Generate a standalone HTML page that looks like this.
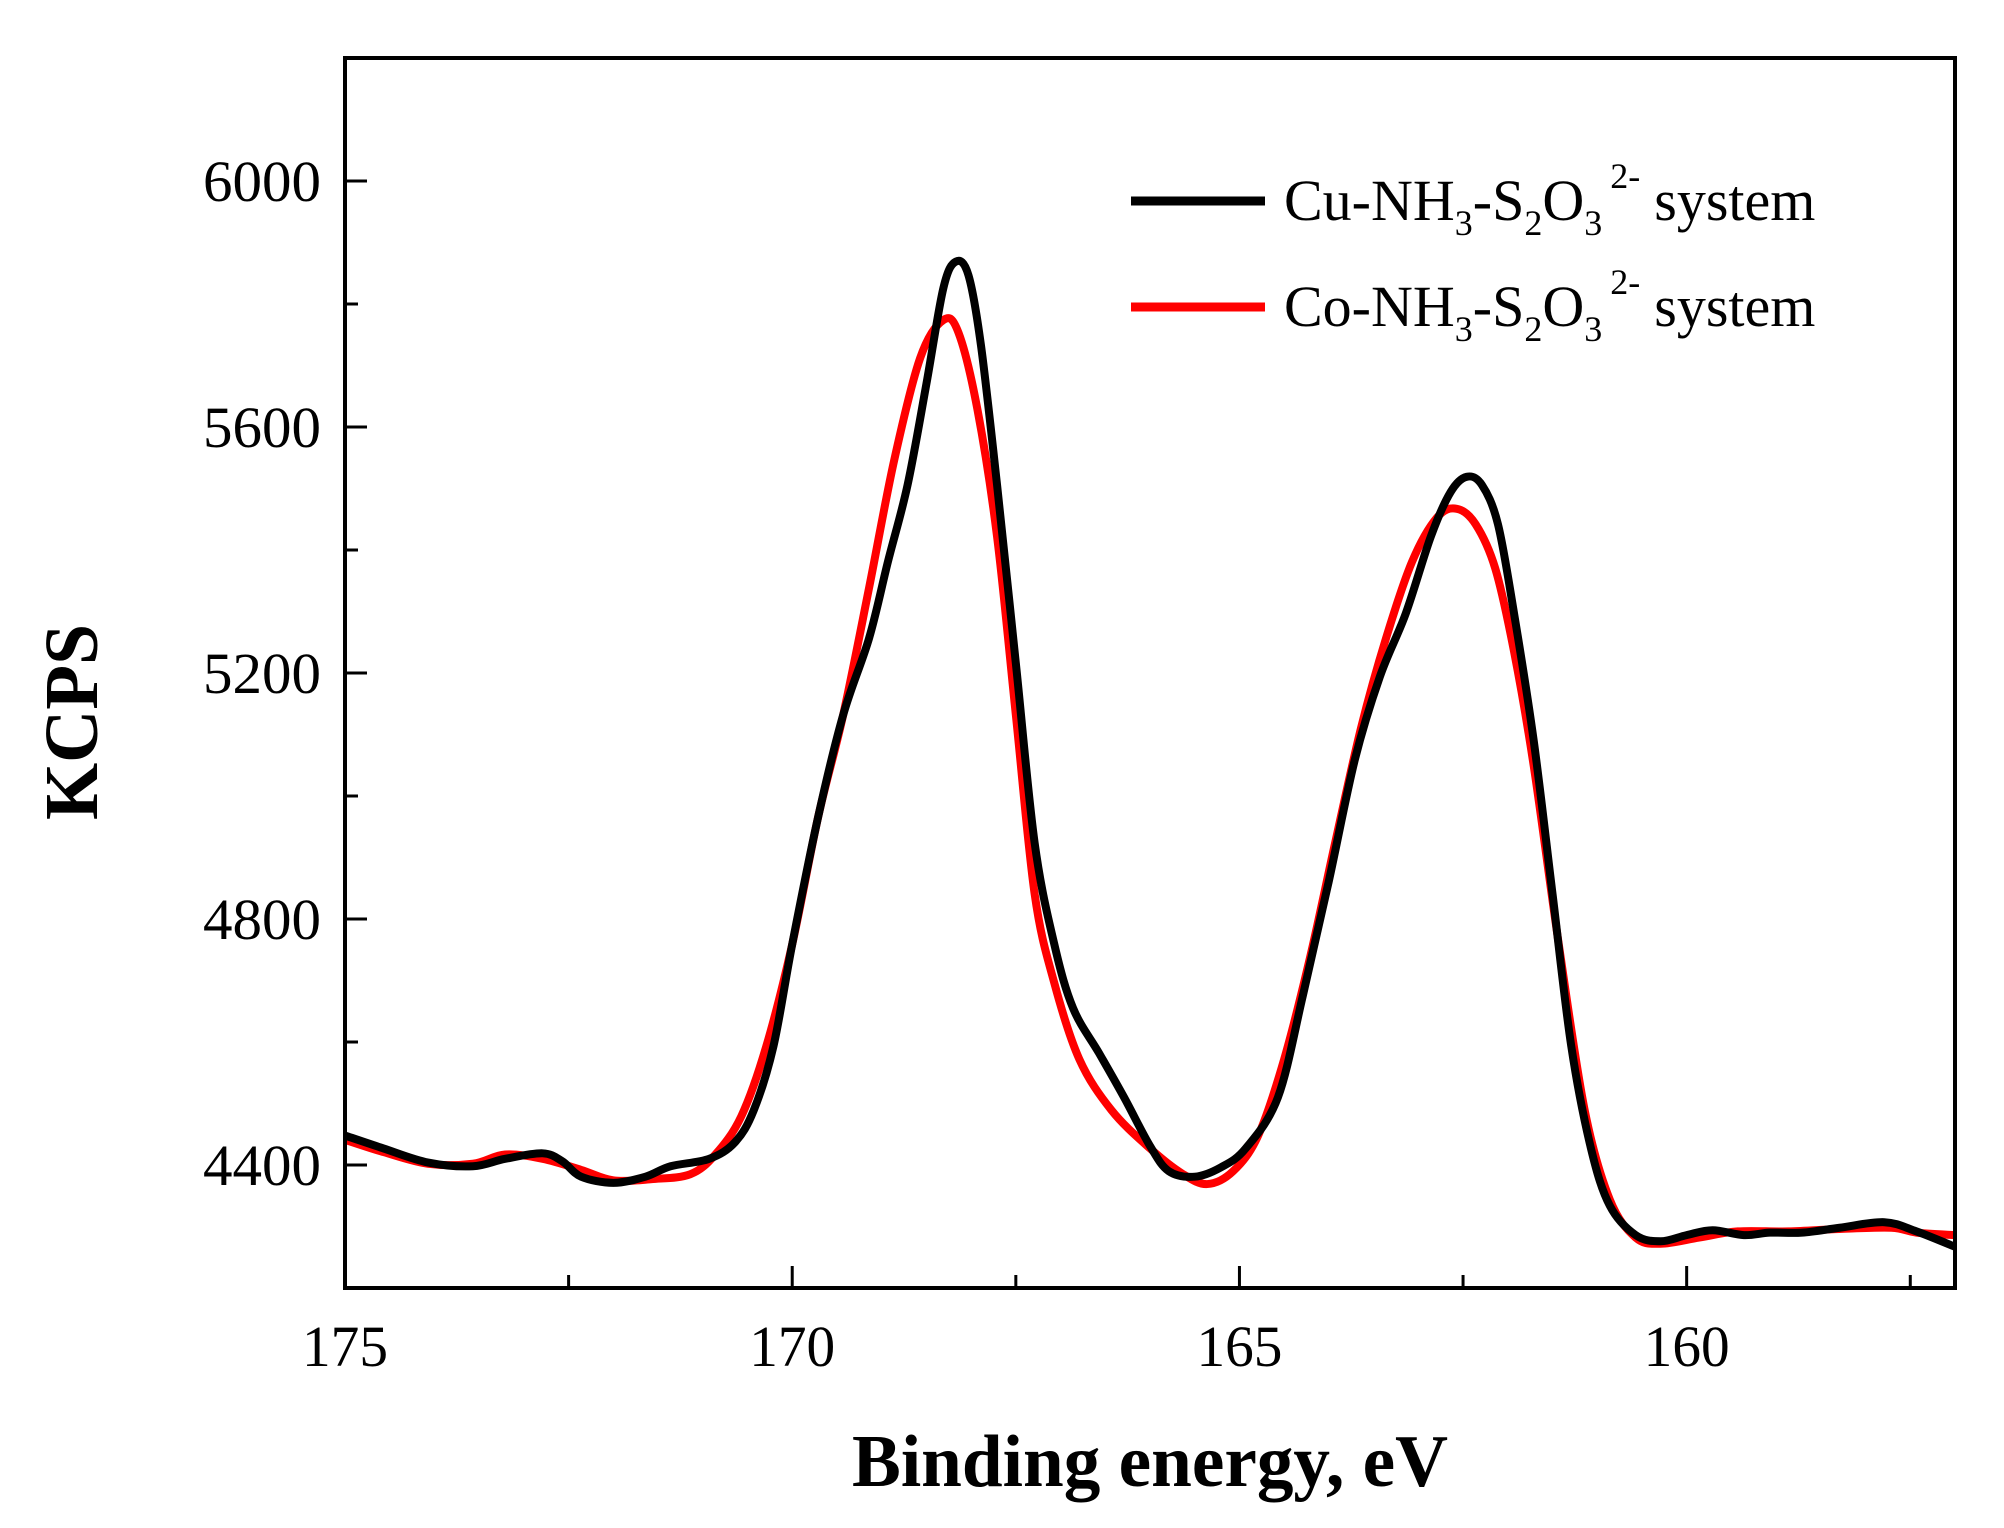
<!DOCTYPE html>
<html><head><meta charset="utf-8"><style>
html,body{margin:0;padding:0;background:#fff;}
svg{display:block;font-family:"Liberation Serif",serif;}
</style></head><body>
<svg id="chart" width="2004" height="1528" viewBox="0 0 2004 1528" xmlns="http://www.w3.org/2000/svg">
<rect width="2004" height="1528" fill="#fff"/>
<g id="plot"></g>
<rect x="345" y="58" width="1610" height="1230" fill="none" stroke="#000" stroke-width="4"/>
<text x="1150" y="1486" font-size="74" font-weight="bold" text-anchor="middle" textLength="596" lengthAdjust="spacingAndGlyphs">Binding energy, eV</text>
<text transform="translate(97,722) rotate(-90)" font-size="76" font-weight="bold" text-anchor="middle" textLength="196" lengthAdjust="spacingAndGlyphs">KCPS</text>
<g>
<line x1="1131" y1="201" x2="1265" y2="201" stroke="#000" stroke-width="9"/>
<text x="1284" y="220" font-size="58">Cu-NH<tspan font-size="36" dy="15">3</tspan><tspan dy="-15">-S</tspan><tspan font-size="36" dy="15">2</tspan><tspan dy="-15">O</tspan><tspan font-size="36" dy="15">3</tspan><tspan font-size="36" dy="-47" dx="8">2-</tspan><tspan dy="32" dx="14">system</tspan></text>
<line x1="1131" y1="307" x2="1265" y2="307" stroke="#f00" stroke-width="9"/>
<text x="1284" y="326" font-size="58">Co-NH<tspan font-size="36" dy="15">3</tspan><tspan dy="-15">-S</tspan><tspan font-size="36" dy="15">2</tspan><tspan dy="-15">O</tspan><tspan font-size="36" dy="15">3</tspan><tspan font-size="36" dy="-47" dx="8">2-</tspan><tspan dy="32" dx="14">system</tspan></text>
</g>
</svg>
<script>
const xTicks = [175, 170, 165, 160];
const yTicks = [4400, 4800, 5200, 5600, 6000];
const cuEnergy = [175.00,174.57,174.07,173.57,173.21,172.79,172.57,172.36,172.00,171.64,171.36,170.93,170.64,170.43,170.21,170.00,169.71,169.43,169.14,168.93,168.71,168.50,168.31,168.17,168.03,167.89,167.71,167.50,167.29,167.07,166.86,166.57,166.29,166.00,165.79,165.50,165.21,164.93,164.57,164.29,164.00,163.71,163.43,163.14,162.86,162.64,162.46,162.29,162.11,161.93,161.71,161.50,161.29,161.07,160.86,160.57,160.29,160.00,159.71,159.36,159.07,158.71,158.29,157.79,157.43,157.00];
const cuKcps = [4448,4427,4404,4398,4410,4419,4406,4381,4371,4381,4398,4410,4437,4489,4593,4759,4966,5132,5257,5381,5506,5670,5826,5869,5847,5733,5506,5216,4924,4759,4655,4582,4510,4431,4390,4381,4396,4427,4510,4676,4862,5059,5194,5297,5422,5494,5519,5506,5442,5297,5090,4841,4593,4427,4334,4286,4276,4286,4294,4286,4290,4290,4298,4307,4292,4267];
const coEnergy = [175.00,174.57,174.07,173.57,173.21,172.79,172.36,172.00,171.57,171.14,170.86,170.57,170.29,170.00,169.71,169.43,169.14,168.86,168.57,168.31,168.14,167.93,167.71,167.50,167.29,167.07,166.79,166.43,166.00,165.64,165.36,165.07,164.79,164.50,164.21,163.93,163.64,163.36,163.07,162.79,162.57,162.36,162.14,161.93,161.71,161.43,161.14,160.86,160.57,160.29,159.86,159.43,158.86,158.29,157.71,157.43,157.00];
const coKcps = [4441,4421,4402,4402,4417,4410,4392,4375,4377,4385,4417,4479,4593,4759,4966,5132,5339,5546,5712,5774,5753,5629,5422,5132,4841,4696,4572,4489,4427,4386,4369,4390,4448,4572,4738,4924,5111,5257,5381,5453,5467,5442,5370,5235,5049,4759,4489,4344,4282,4272,4282,4292,4292,4296,4298,4290,4286];

const L=345,R=1955,T=58,B=1288, XMIN=175, XMAX=157, YMIN=4200, YMAX=6200;
function sx(e){return L+(e-XMIN)/(XMAX-XMIN)*(R-L);}
function sy(v){return B-(v-YMIN)/(YMAX-YMIN)*(B-T);}
const NS="http://www.w3.org/2000/svg";
const g=document.getElementById('plot');
function mk(tag,attrs,parent){const el=document.createElementNS(NS,tag);for(const k in attrs)el.setAttribute(k,attrs[k]);(parent||g).appendChild(el);return el;}

for(let v=YMIN; v<=YMAX; v+=200){
  const major = yTicks.includes(v);
  const t=mk('line',{x1:L,x2:L+(major?22:13),y1:sy(v),y2:sy(v),stroke:'#000','stroke-width':3});
  
  
}
yTicks.forEach(v=>{
  const t=mk('text',{x:321,y:sy(v)+20,'font-size':58,'text-anchor':'end',textLength:118,lengthAdjust:'spacingAndGlyphs'});
  t.textContent=v;
  
  
});
for(let e=175; e>=157; e-=2.5){
  const major = xTicks.includes(e);
  const t=mk('line',{x1:sx(e),x2:sx(e),y1:B,y2:B-(major?22:13),stroke:'#000','stroke-width':3});
  
  
}
xTicks.forEach(e=>{
  const t=mk('text',{x:sx(e),y:1366,'font-size':58,'text-anchor':'middle',textLength:86,lengthAdjust:'spacingAndGlyphs'});
  t.textContent=e;
  
  
});
function smoothPath(xs,ys){
  const p=xs.map((e,i)=>[sx(e),sy(ys[i])]);
  let d='M'+p[0][0]+','+p[0][1];
  for(let i=0;i<p.length-1;i++){
    const p0=p[Math.max(0,i-1)],p1=p[i],p2=p[i+1],p3=p[Math.min(p.length-1,i+2)];
    const c1=[p1[0]+(p2[0]-p0[0])/6,p1[1]+(p2[1]-p0[1])/6];
    const c2=[p2[0]-(p3[0]-p1[0])/6,p2[1]-(p3[1]-p1[1])/6];
    d+=` C${c1[0]},${c1[1]} ${c2[0]},${c2[1]} ${p2[0]},${p2[1]}`;
  }
  return d;
}
const clip=mk('clipPath',{id:'clp'});
mk('rect',{x:L,y:T,width:R-L,height:B-T},clip);
const co=mk('path',{d:smoothPath(coEnergy,coKcps),fill:'none',stroke:'#f00','stroke-width':8,'stroke-linejoin':'round','clip-path':'url(#clp)'});


const cu=mk('path',{d:smoothPath(cuEnergy,cuKcps),fill:'none',stroke:'#000','stroke-width':8,'stroke-linejoin':'round','clip-path':'url(#clp)'});


</script>
</body></html>
